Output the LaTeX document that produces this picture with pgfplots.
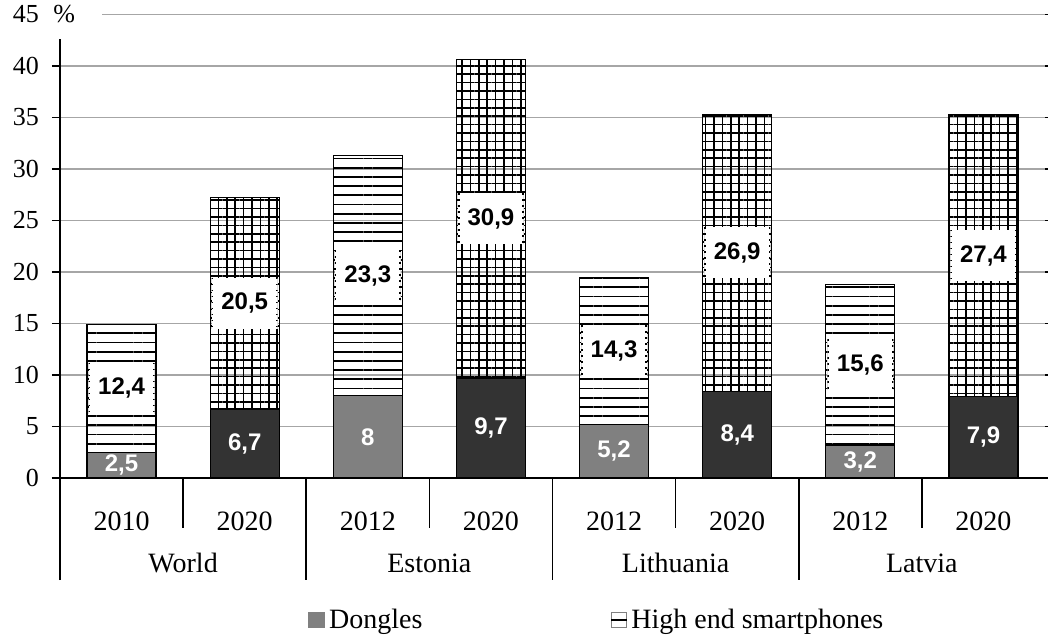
\documentclass[border=0pt]{standalone}
\usepackage{pgfplots}
\pgfplotsset{compat=1.18}
\usepackage{pgfplotstable}
\usepackage{fontspec}
\setmainfont{Liberation Serif}
\newfontfamily\labelfont{Liberation Sans}
\usetikzlibrary{patterns.meta}

\definecolor{dongleA}{HTML}{808080}
\definecolor{dongleB}{HTML}{333333}
\definecolor{gridc}{HTML}{A6A6A6}

% Dongles, first survey year (2010 for World, 2012 otherwise)
\pgfplotstableread{
x v
0 2.5
2 8
4 5.2
6 3.2
}\dongleearly
% Dongles, 2020
\pgfplotstableread{
x v
1 6.7
3 9.7
5 8.4
7 7.9
}\donglelate
% High end smartphones, first survey year
\pgfplotstableread{
x v
0 12.4
2 23.3
4 14.3
6 15.6
}\smartearly
% High end smartphones, 2020
\pgfplotstableread{
x v
1 20.5
3 30.9
5 26.9
7 27.4
}\smartlate

\tikzset{
  inlabel/.style={font=\labelfont\bfseries\fontsize{12}{14}\selectfont, text=white, inner sep=1pt},
  boxlabel/.style={font=\labelfont\bfseries\fontsize{12}{14}\selectfont, text=black,
    fill=white, minimum width=33pt, minimum height=25.5pt, inner sep=0pt,
    path picture={\draw[black, line width=1.6pt, dash pattern=on 0.7pt off 2.3pt]
      (path picture bounding box.north west) -- (path picture bounding box.south west)
      (path picture bounding box.north east) -- (path picture bounding box.south east);}},
  sep/.style={black, line width=0.8pt},
  txt/.style={font=\fontsize{14}{16}\selectfont},
}

% value labels are centred on their segment
\pgfplotsset{
  barframe/.style={
    at={(0,0)}, anchor=south west,
    scale only axis,
    x=61.5625pt, y=5.15pt,
    xmin=-0.5, xmax=7.5, ymin=0, ymax=45,
    enlargelimits=false,
    clip=false,
    ybar stacked, bar width=34.5pt,
    point meta=explicit,
    nodes near coords,
    nodes near coords align={center},
    /pgf/number format/.cd, use comma, fixed, precision=1, assume math mode=true,
    /pgfplots/.cd,
  },
  bottomseg/.style={draw=black, line width=0.6pt,
    every node near coord/.style={inlabel, anchor=center}},
  topseg/.style={draw=black, line width=0.6pt,
    every node near coord/.style={boxlabel, anchor=center}},
}

\begin{document}
\begin{tikzpicture}
\useasboundingbox (-30pt,-79.5pt) rectangle (494pt,239pt);
% frame, grid, first-year bars and legend
\begin{axis}[
  barframe,
  axis line style={draw=none},
  ytick={0,5,...,45},
  ymajorgrids, grid style={draw=gridc, line width=0.8pt},
  tick align=outside, major tick length=4pt,
  ytick style={draw=black, line width=0.6pt},
  xtick={0,...,7},
  xticklabels={2010,2020,2012,2020,2012,2020,2012,2020},
  xtick style={draw=none},
  yticklabel style={anchor=east, xshift=-3pt, font=\fontsize{13}{15}\selectfont},
  xticklabel style={anchor=base, yshift=-22pt, font=\fontsize{14}{16}\selectfont},
  legend columns=2,
  legend style={draw=none, fill=none, inner sep=0pt, at={(0.2518,-0.3064)}, anchor=west,
    font=\fontsize{14}{16}\selectfont,
    /tikz/every even column/.append style={column sep=92pt}},
]
\addplot[bottomseg, fill=dongleA,
  legend image code/.code={\fill[dongleA] (0pt,-3.9pt) rectangle (7.8pt,3.9pt);}]
  table[x=x, y=v, meta=v] {\dongleearly};
\addplot[topseg, pattern={Lines[angle=0, distance=4.6pt, line width=0.9pt]},
  legend image code/.code={\draw[gray, line width=0.5pt, fill=white] (0pt,-3.9pt) rectangle (7.8pt,3.9pt);
    \draw[black, line width=0.6pt] (0pt,0pt) -- (7.8pt,0pt);}]
  table[x=x, y=v, meta=v] {\smartearly};
\legend{Dongles, High end smartphones}
\end{axis}

% 2020 bars, same frame
\begin{axis}[barframe, hide axis]
\addplot[bottomseg, fill=dongleB]
  table[x=x, y=v, meta=v] {\donglelate};
\addplot[topseg, pattern={Hatch[distance=4.2pt, line width=0.8pt]}]
  table[x=x, y=v, meta=v] {\smartlate};

% axis lines and category separators
\draw[sep] ([xshift=-4pt]axis cs:-0.5,0) -- ([xshift=2pt]axis cs:7.5,0);
\draw[sep] ([yshift=-51pt]axis cs:-0.5,0) -- (axis cs:-0.5,42.6);
\draw[sep] (axis cs:1.5,0) -- ([yshift=-51pt]axis cs:1.5,0);
\draw[sep] (axis cs:3.5,0) -- ([yshift=-51pt]axis cs:3.5,0);
\draw[sep] (axis cs:5.5,0) -- ([yshift=-51pt]axis cs:5.5,0);
\draw[sep] (axis cs:0.5,0) -- ([yshift=-25pt]axis cs:0.5,0);
\draw[sep] (axis cs:2.5,0) -- ([yshift=-25pt]axis cs:2.5,0);
\draw[sep] (axis cs:4.5,0) -- ([yshift=-25pt]axis cs:4.5,0);
\draw[sep] (axis cs:6.5,0) -- ([yshift=-25pt]axis cs:6.5,0);

% country names
\node[txt, anchor=base] at ([yshift=-47pt]axis cs:0.5,0) {World};
\node[txt, anchor=base] at ([yshift=-47pt]axis cs:2.5,0) {Estonia};
\node[txt, anchor=base] at ([yshift=-47pt]axis cs:4.5,0) {Lithuania};
\node[txt, anchor=base] at ([yshift=-47pt]axis cs:6.5,0) {Latvia};
\end{axis}

% unit label at the top of the value axis (axis origin is at (0,0), 45 is at 231.75pt)
\fill[white] (-4pt,220pt) rectangle (21pt,239pt);
\node[font=\fontsize{13}{15}\selectfont, anchor=west, inner sep=0pt] at (-3.5pt,231.75pt) {\%};
\end{tikzpicture}
\end{document}
